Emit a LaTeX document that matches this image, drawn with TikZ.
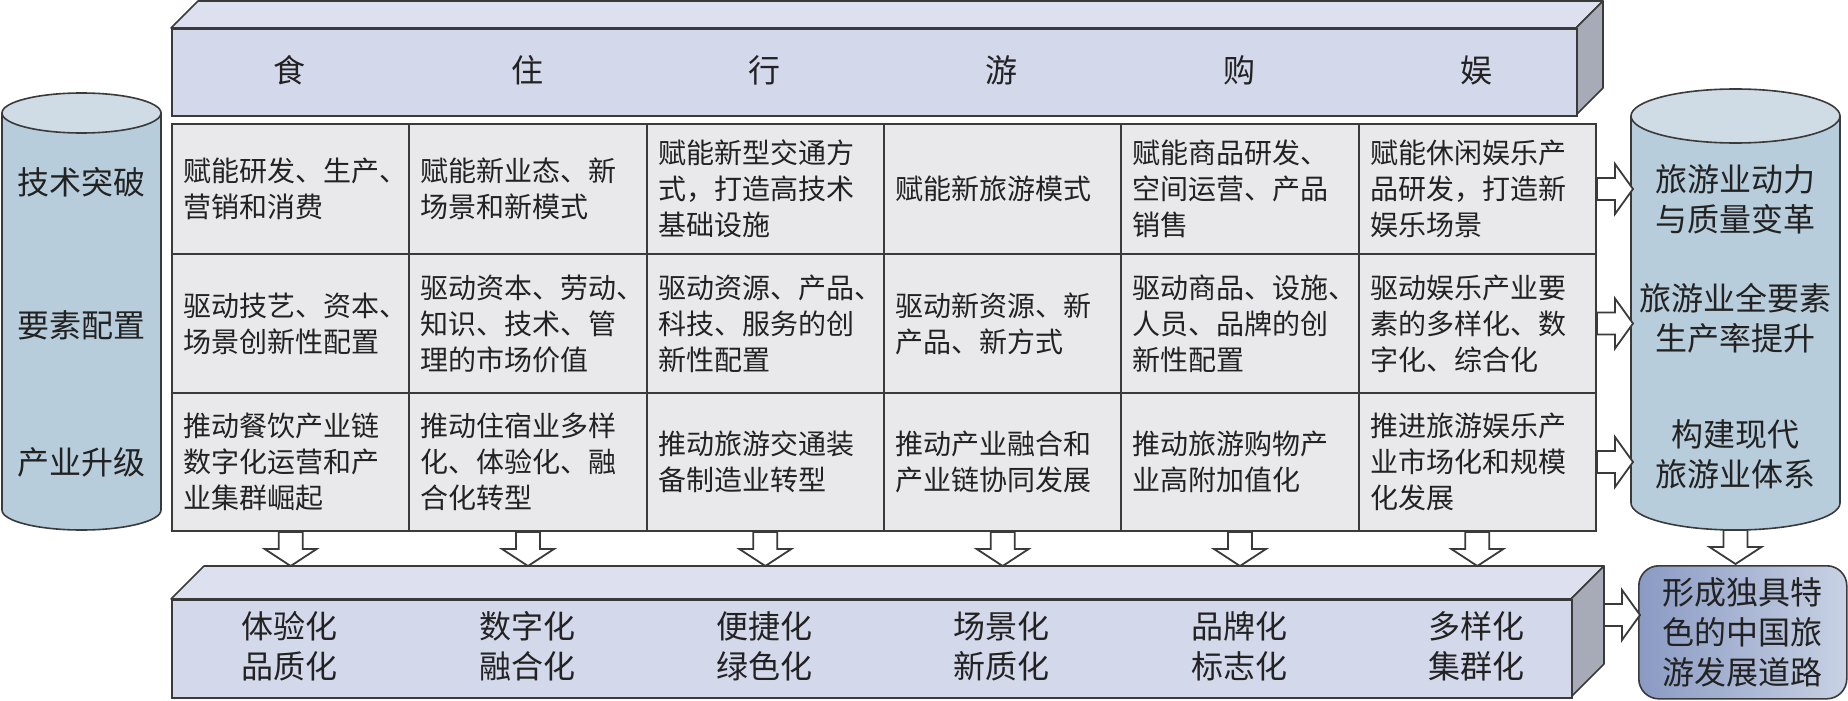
\documentclass[tikz,border=0pt]{standalone}
\usepackage{fontspec}
\newfontfamily\cjk{Noto Sans CJK SC}
\definecolor{boxfront}{HTML}{D3D8EA}
\definecolor{boxtop}{HTML}{DDE0EE}
\definecolor{boxside}{HTML}{A7ABB8}
\definecolor{cellfill}{HTML}{E9E9EC}
\definecolor{cylside}{HTML}{B8CDDB}
\definecolor{cyltop}{HTML}{D0DCE5}
\definecolor{edge}{HTML}{3A3A3A}
\definecolor{ink}{HTML}{222222}
\definecolor{finL}{HTML}{8A9AC3}
\definecolor{finR}{HTML}{C8D2E4}
\newcommand\rarr[1]{\draw[barrow] ([yshift=5.5pt]#1) -- ++(18,0) -- ++(0,-14) -- ++(18,25) -- ++(-18,25) -- ++(0,-14) -- ++(-18,0) -- cycle;}
\newcommand\darr[1]{\draw[barrow] ([xshift=-6pt]#1) -- ++(0,17) -- ++(-14,0) -- ++(26,17) -- ++(26,-17) -- ++(-14,0) -- ++(0,-17) -- cycle;}
\begin{document}
\begin{tikzpicture}[x=0.5pt,y=-0.5pt,
  cellbox/.style={draw=edge, line width=1pt, fill=cellfill, minimum width=118.67pt, inner sep=0pt, anchor=north west},
  celltext/.style={align=left, inner sep=0pt, anchor=west, text=ink, font=\cjk\fontsize{14}{18}\selectfont},
  bigtext/.style={align=center, inner sep=0pt, text=ink, font=\cjk\fontsize{16}{20}\selectfont},
  barrow/.style={draw=edge, fill=white, line width=0.9pt, line join=miter},
  facet/.style={draw=edge, line width=0.8pt, line join=round},
]
\useasboundingbox (0,0) rectangle (1848,701);

% ---------- top 3D box ----------
\filldraw[facet, fill=boxtop] (171,28) -- (198,1) -- (1603,1) -- (1576,28) -- cycle;
\filldraw[facet, fill=boxside] (1576,28) -- (1603,1) -- (1603,88) -- (1576,115) -- cycle;
\node[draw=edge, line width=0.8pt, fill=boxfront, minimum width=702.5pt, minimum height=43.5pt, inner sep=0pt, anchor=north west] (hdr) at (171,28) {};
\node[bigtext] (h0) at (289.7,70) {食};
\node[bigtext] (h1) at (527.0,70) {住};
\node[bigtext] (h2) at (764.3,70) {行};
\node[bigtext] (h3) at (1001.7,70) {游};
\node[bigtext] (h4) at (1239.0,70) {购};
\node[bigtext] (h5) at (1476.3,70) {娱};

% ---------- grid ----------
\foreach \i in {0,...,5}{
  \node[cellbox, minimum height=65pt] (a\i) at ({171+237.33*\i},123) {};
  \node[cellbox, minimum height=69.5pt] (b\i) at ({171+237.33*\i},253) {};
  \node[cellbox, minimum height=69pt] (c\i) at ({171+237.33*\i},392) {};
}
\node[celltext] (ta0) at ([xshift=6pt]a0.west) {赋能研发、生产、\\营销和消费};
\node[celltext] (ta1) at ([xshift=6pt]a1.west) {赋能新业态、新\\场景和新模式};
\node[celltext] (ta2) at ([xshift=6pt]a2.west) {赋能新型交通方\\式，打造高技术\\基础设施};
\node[celltext] (ta3) at ([xshift=6pt]a3.west) {赋能新旅游模式};
\node[celltext] (ta4) at ([xshift=6pt]a4.west) {赋能商品研发、\\空间运营、产品\\销售};
\node[celltext] (ta5) at ([xshift=6pt]a5.west) {赋能休闲娱乐产\\品研发，打造新\\娱乐场景};

\node[celltext] (tb0) at ([xshift=6pt]b0.west) {驱动技艺、资本、\\场景创新性配置};
\node[celltext] (tb1) at ([xshift=6pt]b1.west) {驱动资本、劳动、\\知识、技术、管\\理的市场价值};
\node[celltext] (tb2) at ([xshift=6pt]b2.west) {驱动资源、产品、\\科技、服务的创\\新性配置};
\node[celltext] (tb3) at ([xshift=6pt]b3.west) {驱动新资源、新\\产品、新方式};
\node[celltext] (tb4) at ([xshift=6pt]b4.west) {驱动商品、设施、\\人员、品牌的创\\新性配置};
\node[celltext] (tb5) at ([xshift=6pt]b5.west) {驱动娱乐产业要\\素的多样化、数\\字化、综合化};

\node[celltext] (tc0) at ([xshift=6pt]c0.west) {推动餐饮产业链\\数字化运营和产\\业集群崛起};
\node[celltext] (tc1) at ([xshift=6pt]c1.west) {推动住宿业多样\\化、体验化、融\\合化转型};
\node[celltext] (tc2) at ([xshift=6pt]c2.west) {推动旅游交通装\\备制造业转型};
\node[celltext] (tc3) at ([xshift=6pt]c3.west) {推动产业融合和\\产业链协同发展};
\node[celltext] (tc4) at ([xshift=6pt]c4.west) {推动旅游购物产\\业高附加值化};
\node[celltext] (tc5) at ([xshift=6pt]c5.west) {推进旅游娱乐产\\业市场化和规模\\化发展};

% ---------- left cylinder ----------
\filldraw[facet, fill=cylside] (2,113) -- (2,510) arc[start angle=180, end angle=360, x radius=39.75pt, y radius=10pt] -- (161,113) -- cycle;
\filldraw[facet, fill=cyltop] (81.5,113) ellipse[x radius=39.75pt, y radius=10pt];
\node[bigtext] (l1) at (81.5,182) {技术突破};
\node[bigtext] (l2) at (81.5,325) {要素配置};
\node[bigtext] (l3) at (81.5,462) {产业升级};

% ---------- right cylinder ----------
\filldraw[facet, fill=cylside] (1631,116) -- (1631,503) arc[start angle=180, end angle=360, x radius=52.25pt, y radius=13.5pt] -- (1840,116) -- cycle;
\filldraw[facet, fill=cyltop] (1735.5,116) ellipse[x radius=52.25pt, y radius=13.5pt];
\node[bigtext] (r1) at (1735.5,199) {旅游业动力\\与质量变革};
\node[bigtext] (r2) at (1735.5,318) {旅游业全要素\\生产率提升};
\node[bigtext] (r3) at (1735.5,454) {构建现代\\旅游业体系};
\coordinate (rcb) at (1735.5,530);

% ---------- bottom 3D box ----------
\filldraw[facet, fill=boxtop] (171,599) -- (204,566) -- (1604,566) -- (1571,599) -- cycle;
\filldraw[facet, fill=boxside] (1571,599) -- (1604,566) -- (1604,664) -- (1571,697) -- cycle;
\node[draw=edge, line width=0.8pt, fill=boxfront, minimum width=700pt, minimum height=49pt, inner sep=0pt, anchor=north west] (btm) at (171,599) {};
\node[bigtext] (d0) at (289.7,646) {体验化\\品质化};
\node[bigtext] (d1) at (527.0,646) {数字化\\融合化};
\node[bigtext] (d2) at (764.3,646) {便捷化\\绿色化};
\node[bigtext] (d3) at (1001.7,646) {场景化\\新质化};
\node[bigtext] (d4) at (1239.0,646) {品牌化\\标志化};
\node[bigtext] (d5) at (1476.3,646) {多样化\\集群化};
\coordinate (bre) at (1604,615);

% ---------- final box ----------
\node[draw=edge, line width=0.8pt, rounded corners=10pt, left color=finL, right color=finR, minimum width=104pt, minimum height=66.5pt, inner sep=0pt, anchor=north west] (fin) at (1638,565) {};
\node[bigtext] (fint) at (fin.center) {形成独具特\\色的中国旅\\游发展道路};

% ---------- block arrows ----------
\rarr{a5.east}
\rarr{b5.east}
\rarr{c5.east}
\foreach \i in {0,...,5}{ \darr{c\i.south} }
\darr{rcb}
\rarr{bre}
\end{tikzpicture}
\end{document}
